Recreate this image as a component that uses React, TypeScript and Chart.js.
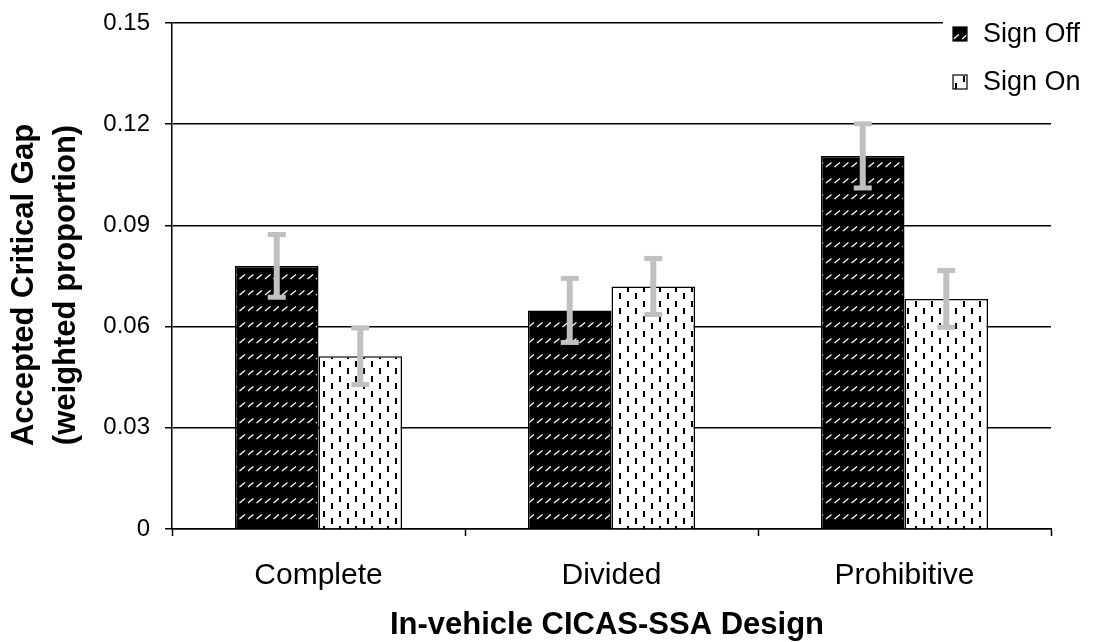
import React, { useEffect, useRef } from 'react';
import { Chart, registerables } from 'chart.js';

Chart.register(...registerables);

const categories = ['Complete', 'Divided', 'Prohibitive'];
const seriesNames = ['Sign Off', 'Sign On'];
const signOff = [0.078, 0.0648, 0.1106];
const signOn = [0.0512, 0.0719, 0.0682];
const signOffErr = [0.0093, 0.0095, 0.0095];
const signOnErr = [0.0084, 0.0083, 0.0084];
const yTicks = [0, 0.03, 0.06, 0.09, 0.12, 0.15];
const yTickLabels = ['0', '0.03', '0.06', '0.09', '0.12', '0.15'];
const xTitle = 'In-vehicle CICAS-SSA Design';
const yTitle = ['Accepted Critical Gap', '(weighted proportion)'];

const FONT = '"Liberation Sans", Arial, sans-serif';

function makeOffPattern(ctx: CanvasRenderingContext2D): CanvasPattern {
  const c = document.createElement('canvas');
  c.width = 17;
  c.height = 16;
  const t = c.getContext('2d')!;
  t.fillStyle = '#000';
  t.fillRect(0, 0, 17, 16);
  t.strokeStyle = '#fff';
  t.lineWidth = 1.3;
  t.beginPath();
  t.moveTo(1.5, 7);
  t.lineTo(7, 2.5);
  t.moveTo(10, 7);
  t.lineTo(15.5, 2.5);
  t.stroke();
  return ctx.createPattern(c, 'repeat')!;
}

function makeOnPattern(ctx: CanvasRenderingContext2D): CanvasPattern {
  const c = document.createElement('canvas');
  c.width = 16;
  c.height = 15;
  const t = c.getContext('2d')!;
  t.fillStyle = '#fff';
  t.fillRect(0, 0, 16, 15);
  t.fillStyle = '#000';
  t.fillRect(3, 1, 2, 6);
  t.fillRect(11, 8, 2, 6);
  return ctx.createPattern(c, 'repeat')!;
}

export default function App() {
  const ref = useRef<HTMLCanvasElement | null>(null);

  useEffect(() => {
    const canvas = ref.current!;
    const ctx = canvas.getContext('2d')!;
    const offPat = makeOffPattern(ctx);
    const onPat = makeOnPattern(ctx);
    const errs = [signOffErr, signOnErr];

    const errorBars = {
      id: 'errorBars',
      afterDatasetsDraw(chart: any) {
        const c = chart.ctx;
        const ys = chart.scales.y;
        c.save();
        chart.data.datasets.forEach((ds: any, i: number) => {
          const meta = chart.getDatasetMeta(i);
          meta.data.forEach((el: any, j: number) => {
            const v = ds.data[j];
            const e = errs[i][j];
            const x = el.x;
            const yT = ys.getPixelForValue(v + e);
            const yB = ys.getPixelForValue(v - e);
            c.strokeStyle = '#c0c0c0';
            c.lineWidth = 6;
            c.beginPath();
            c.moveTo(x, yT);
            c.lineTo(x, yB);
            c.stroke();
            c.fillStyle = '#c0c0c0';
            c.fillRect(x - 9, yT - 2.5, 18, 5);
            c.fillRect(x - 9, yB - 2.5, 18, 5);
          });
        });
        c.restore();
      },
    };

    const decorations = {
      id: 'decorations',
      afterDraw(chart: any) {
        const c = chart.ctx;
        c.save();
        // legend
        c.fillStyle = '#fff';
        c.fillRect(943, 8, 151, 100);
        const pats = [offPat, onPat];
        const rowY = [34, 82];
        chart.data.datasets.forEach((ds: any, i: number) => {
          const y = rowY[i];
          c.fillStyle = pats[i];
          c.fillRect(953, y - 7, 14, 14);
          c.strokeStyle = '#000';
          c.lineWidth = 1.2;
          c.strokeRect(953, y - 7, 14, 14);
          c.fillStyle = '#000';
          c.font = `27px ${FONT}`;
          c.textAlign = 'left';
          c.textBaseline = 'middle';
          c.fillText(ds.label, 983, y + 1);
        });
        // x title
        c.fillStyle = '#000';
        c.font = `bold 31px ${FONT}`;
        c.textAlign = 'center';
        c.textBaseline = 'middle';
        c.fillText(xTitle, 607, 625);
        // y title
        const lx = [24, 66];
        yTitle.forEach((line, k) => {
          c.save();
          c.translate(lx[k], 285);
          c.rotate(-Math.PI / 2);
          c.fillText(line, 0, 0);
          c.restore();
        });
        c.restore();
      },
    };

    const chart = new Chart(canvas, {
      type: 'bar',
      data: {
        labels: categories,
        datasets: [
          {
            label: seriesNames[0],
            data: signOff,
            backgroundColor: offPat as any,
            borderColor: '#000',
            borderWidth: 1.5,
            categoryPercentage: 0.57,
            barPercentage: 1.0,
          },
          {
            label: seriesNames[1],
            data: signOn,
            backgroundColor: onPat as any,
            borderColor: '#000',
            borderWidth: 1.5,
            categoryPercentage: 0.57,
            barPercentage: 1.0,
          },
        ],
      },
      options: {
        animation: false,
        responsive: false,
        devicePixelRatio: 1,
        layout: { padding: { top: 23, right: 43, left: 0, bottom: 0 } },
        plugins: {
          legend: { display: false },
          tooltip: { enabled: false },
          title: { display: false },
        },
        scales: {
          x: {
            offset: true,
            grid: {
              offset: true,
              drawOnChartArea: false,
              drawTicks: true,
              tickLength: 7,
              tickColor: '#000',
              tickWidth: 1.5,
            },
            border: { display: true, color: '#000', width: 1.5 },
            ticks: {
              color: '#000',
              font: { family: FONT, size: 30 },
              padding: 22,
              maxRotation: 0,
            },
            afterFit(scale: any) {
              scale.height = 113;
            },
          },
          y: {
            min: 0,
            max: 0.15,
            grid: {
              color: '#000',
              lineWidth: 1.5,
              drawTicks: true,
              tickLength: 7,
              tickColor: '#000',
              tickWidth: 1.5,
            },
            border: { display: true, color: '#000', width: 1.5 },
            ticks: {
              color: '#000',
              font: { family: FONT, size: 24 },
              padding: 15,
              callback: (_v: any, i: number) => yTickLabels[i],
            },
            afterBuildTicks(scale: any) {
              scale.ticks = yTicks.map((v) => ({ value: v }));
            },
            afterFit(scale: any) {
              scale.width = 172;
              scale.paddingTop = 0;
              scale.paddingBottom = 0;
            },
          },
        },
      },
      plugins: [errorBars, decorations],
    });

    return () => chart.destroy();
  }, []);

  return (
    <div style={{ position: 'fixed', left: 0, top: 0, width: 1094, height: 642, background: '#fff' }}>
      <canvas ref={ref} width={1094} height={642} style={{ display: 'block' }} />
    </div>
  );
}
